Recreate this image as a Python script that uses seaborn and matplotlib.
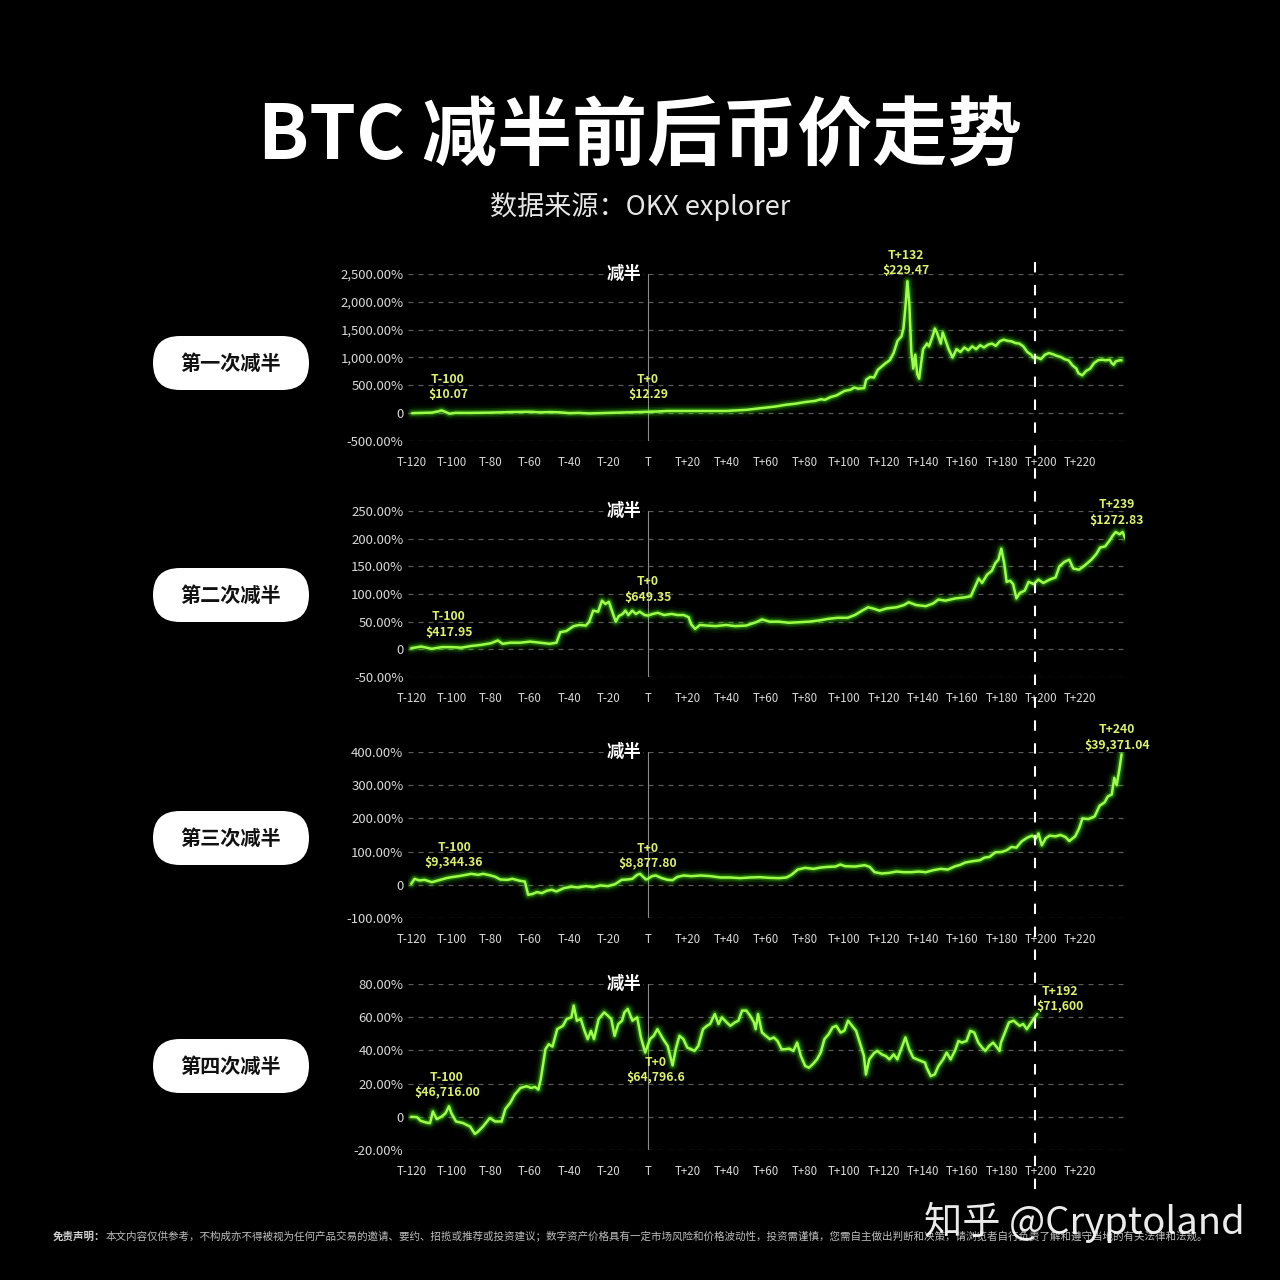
import numpy as np
import pandas as pd
import seaborn as sns
import matplotlib
matplotlib.use("Agg")
import matplotlib.pyplot as plt
from matplotlib.patches import FancyBboxPatch
from matplotlib.lines import Line2D
from matplotlib.ticker import FuncFormatter, FixedLocator

# ---------------- data ----------------
title = "BTC 减半前后币价走势"
subtitle = "数据来源：OKX explorer"
panel_names = ["第一次减半", "第二次减半", "第三次减半", "第四次减半"]
halving_label = "减半"

x_ticks = list(range(-120, 221, 20))
x_tick_labels = [("T" if t == 0 else (f"T+{t}" if t > 0 else f"T{t}")) for t in x_ticks]

# halving 1 (% change vs T-120)
h1_days = [-120, -115, -110, -107, -105, -103, -101, -98, -90, -80, -70, -60, -55, -50, -45, -40, -35, -30,
           -25, -20, -15, -10, -5, 0, 5, 10, 20, 30, 40, 45, 50, 55, 60, 65, 70, 75, 80, 85, 88, 90, 93, 96,
           100, 103, 105, 107, 110, 111, 113, 115, 117, 119, 121, 123, 125, 127, 129, 130, 131, 132, 133, 134,
           135, 136, 137, 138, 139, 140, 142, 143, 145, 146, 147, 148, 149, 150, 151, 153, 155, 157, 159, 161,
           163, 165, 167, 169, 171, 173, 175, 177, 179, 181, 183, 185, 187, 189, 191, 193, 195, 196, 198, 200,
           202, 204, 206, 208, 210, 212, 214, 216, 218, 219, 221, 223, 225, 227, 229, 231, 233, 235, 236, 237,
           238, 240, 241]
h1_vals = [0, 5, 10, 30, 50, 20, -10, 5, 5, 10, 20, 25, 15, 20, 15, 0, 5, -5,
           0, 5, 10, 15, 20, 25, 30, 40, 40, 40, 40, 50, 60, 80, 100, 120, 150, 170, 200, 220, 250, 240, 290, 320,
           400, 420, 460, 440, 450, 600, 650, 640, 780, 840, 900, 950, 1080, 1300, 1380, 1520, 1900, 2370, 1950, 1100,
           800, 1050, 700, 620, 900, 1150, 1250, 1200, 1400, 1520, 1450, 1350, 1250, 1450, 1350, 1150, 1000, 1150, 1100, 1180,
           1130, 1200, 1150, 1220, 1180, 1230, 1250, 1210, 1290, 1320, 1300, 1290, 1260, 1250, 1200, 1100, 1050, 1000, 1000, 970,
           1050, 1080, 1060, 1030, 1010, 970, 950, 860, 800, 720, 680, 760, 800, 900, 950, 960, 950, 960, 900, 870,
           930, 950, 950]

# halving 2
h2_days = [-120.5, -115.5, -110, -105, -100.3, -95, -90, -85, -80, -76.4, -74, -70, -65, -60, -55, -50, -46.6, -44.6,
           -41.6, -37.8, -34.9, -31.6, -29.9, -27.9, -25.4, -23.4, -21.7, -19.9, -17.9, -16.4, -14.9, -12.9, -11.5, -10,
           -8, -6.2, -4.2, -1.7, 0, 2.5, 5, 8.2, 12, 15, 18.2, 20.7, 22, 24, 26.4, 29.9, 34.4, 39.8, 44.3, 50, 55, 58,
           61.8, 66.7, 71.7, 76.7, 81.7, 86.7, 91.6, 96.6, 101.6, 105.3, 109, 112, 115.3, 117.8, 121.5, 126.5, 130.2,
           132.7, 136.5, 141.4, 145.2, 147.7, 151.4, 156.4, 161.4, 164.3, 166.3, 168.3, 170, 172.6, 175, 176.8, 178.3,
           179.8, 181.3, 182.5, 184.3, 185.8, 187.5, 189.2, 191.7, 193.7, 196.2, 198.7, 201.2, 204.4, 207.4, 209.4,
           211.9, 214.4, 216.4, 219.4, 222.4, 225.6, 228.1, 230.1, 232.6, 234.8, 236.6, 238, 240, 241.5, 243]
h2_vals = [2, 5, 1, 4, 4, 3, 6, 8, 11, 16, 10, 12, 12, 14, 12, 10, 12, 31,
           33, 42, 44, 43, 50, 70, 68, 88, 82, 86, 65, 50, 60, 64, 70, 62,
           70, 64, 68, 62, 61, 64, 66, 62, 64, 62, 62, 58, 45, 37, 44, 43, 42, 44, 42, 43, 49, 54,
           50, 50, 48, 49, 50, 52, 55, 57, 57, 62, 70, 76, 73, 70, 74, 76, 80,
           85, 80, 78, 83, 90, 88, 92, 94, 96, 112, 128, 120, 135, 142, 156, 162,
           182, 155, 122, 124, 118, 92, 102, 106, 122, 118, 126, 120, 126, 130, 150,
           158, 162, 146, 144, 152, 162, 172, 184, 186, 196, 206, 212, 208, 212, 200]

# halving 3
h3_days = [-120.5, -118.8, -116.3, -113.8, -110, -106.3, -102.6, -100, -96.4, -92.6, -90, -86.4, -83.9, -80, -77.7,
           -75.2, -71.5, -69, -65.2, -62.7, -61, -59, -56.5, -54, -51.5, -49, -46.6, -42.8, -39, -35.4, -31.6, -27.9,
           -24.2, -20.4, -16.7, -13.4, -10.5, -8, -5.5, -4, -2.5, -1, 0, 2, 4, 7, 10, 12.5, 15, 18.2, 22, 27, 31.9,
           36.9, 41.8, 46.8, 51.8, 56.8, 61.8, 66.7, 70.5, 73, 76.2, 80, 84.2, 87.9, 91.6, 95.4, 97.9, 100.3, 105.3,
           110.3, 112.8, 115.3, 119, 122.8, 126.5, 130.2, 134, 137.7, 141.4, 145.2, 148.9, 152.6, 156.4, 158.9, 161.4,
           165.1, 168.8, 171.3, 173.8, 176.8, 180, 182.5, 185, 187.5, 190, 193, 195.5, 197.5, 198.7, 200.4, 202.4,
           204.4, 207.4, 209.9, 212.4, 214.4, 217.4, 219.4, 221.1, 224.1, 227.3, 229.8, 232.3, 234, 236, 237.3, 238.5,
           240, 241]
h3_vals = [3, 18, 13, 15, 8, 14, 20, 23, 26, 30, 33, 30, 33, 28, 24,
           16, 15, 18, 12, 10, -30, -28, -22, -25, -18, -15, -20, -10, -6, -8, -4, -7,
           -2, -4, 2, 15, 16, 18, 30, 33, 24, 16, 18, 26, 28, 20, 15, 14, 24, 28, 26, 28, 26,
           22, 22, 20, 22, 23, 21, 20, 22, 30, 46, 51, 48, 52, 54, 55, 61, 56, 55,
           59, 54, 38, 34, 36, 40, 38, 38, 40, 38, 44, 48, 46, 56, 60, 67,
           71, 74, 82, 84, 98, 99, 104, 114, 112, 130, 142, 148, 140, 155, 119, 140,
           148, 146, 150, 144, 132, 146, 170, 200, 198, 206, 238, 248, 266, 272, 322, 300,
           352, 393]

# halving 4
h4_days = [-120.5, -117.6, -115.7, -113, -110.9, -109.5, -107.5, -104.9, -103, -101.3, -100.1, -97.7, -94.1, -90.5,
           -88.1, -86.5, -84, -80.5, -77.8, -74.5, -72.6, -70.2, -67.8, -64.9, -61.8, -59.4, -57.5, -55.8, -54.6, -52.2,
           -50.5, -48.6, -46.2, -43.3, -41.4, -39.0, -37.8, -36.2, -34.2, -32.3, -30.7, -29.0, -27.5, -25.1, -22.3,
           -20.4, -18.7, -17.0, -15.1, -13.2, -12, -10.3, -7.9, -5.5, -3.6, -1.4, 1.0, 2.9, 4.8, 7.7, 10.0, 12.5, 14.1,
           16.0, 18.0, 20.0, 22.0, 23.7, 25.6, 28.0, 30.0, 31.6, 34.0, 35.9, 37.6, 40.0, 41.9, 44.3, 46.0, 47.9, 50.0,
           52.0, 53.9, 54.8, 56.0, 58.0, 59.9, 62.0, 64.0, 65.9, 68.0, 69.9, 71.9, 74.0, 75.9, 77.8, 80.0, 81.9, 83.8,
           86.0, 87.9, 89.8, 92.0, 93.9, 95.8, 98.0, 99.9, 101.8, 103.9, 105.9, 107.8, 109.9, 110.9, 112.6, 115.0,
           116.6, 119.0, 121.0, 122.9, 125.0, 126.9, 129.1, 131.0, 132.9, 135.0, 137.0, 138.9, 141.0, 141.8, 143.9,
           145.9, 147.8, 150.2, 152.0, 154.0, 156.2, 158.0, 159.7, 162.1, 164.0, 166.0, 168.1, 170.0, 171.7, 173.6,
           175.6, 177.7, 178.9, 179.6, 182.0, 183.7, 186.1, 188.0, 189.2, 190.9, 192.8, 194.5, 196.2, 198.1]
h4_vals = [0, -0.2, -2.4, -3.4, -3.8, 3.2, -1.4, 0.2, 2.2, 6.3, 2.2, -2.8, -3.8, -5.9,
           -10.3, -8.9, -5.9, -0.8, -2.8, -2.8, 4.7, 8.3, 13.4, 17.4, 18.4, 17.4, 18.0, 16.4, 22.5, 40.7,
           43.7, 42.3, 52.8, 54.8, 58.9, 59.9, 67.0, 57.9, 58.9, 51.8, 46.8, 51.8, 46.8, 58.9, 62.9,
           60.9, 58.9, 48.8, 55.9, 57.9, 62.9, 65.0, 57.9, 59.9, 47.8, 38.7, 46.8, 48.8, 52.8, 46.8, 42.7, 31.0, 40.7,
           48.8, 46.8, 41.7, 40.7, 39.7, 42.7, 52.8, 54.8, 55.9, 61.9, 55.9, 59.9, 56.9, 54.8, 56.9, 57.9, 64.0, 64.0,
           60.9, 56.9, 52.8, 61.9, 50.8, 48.8, 46.8, 47.8, 45.7, 40.7, 40.7, 41.1, 39.7, 44.7, 36.6, 30.6, 29.6, 31.6,
           34.6, 38.7, 46.8, 49.8, 53.8, 54.8, 50.8, 51.8, 57.9, 54.8, 51.8, 44.7, 36.6, 25.5, 34.6, 38.3,
           39.7, 37.6, 36.6, 34.6, 37.6, 34.6, 41.7, 47.8, 40.7, 35.6, 34.6, 33.6, 32.6, 29.6, 24.5,
           25.5, 30.6, 34.6, 38.7, 34.6, 39.7, 45.7, 44.7, 45.7, 51.8, 50.8, 44.7, 41.7, 39.7, 42.7,
           44.7, 41.7, 39.7, 44.7, 51.8, 56.9, 57.9, 55.9, 54.8, 55.9, 52.8, 55.9, 58.9, 61.9]

y_ticks = [[-500, 0, 500, 1000, 1500, 2000, 2500],
           [-50, 0, 50, 100, 150, 200, 250],
           [-100, 0, 100, 200, 300, 400],
           [-20, 0, 20, 40, 60, 80]]

# annotations: (text, day, value)
ann = [
    [("T-100\n$10.07", -101.8, 467), ("T+0\n$12.29", 0, 467), ("T+132\n$229.47", 131.3, 2695)],
    [("T-100\n$417.95", -101.3, 45), ("T+0\n$649.35", 0, 108), ("T+239\n$1272.83", 238.7, 247)],
    [("T-100\n$9,344.36", -98.7, 90), ("T+0\n$8,877.80", 0, 87), ("T+240\n$39,371.04", 238.7, 443)],
    [("T-100\n$46,716.00", -102.3, 19.2), ("T+0\n$64,796.6", 4, 28.1), ("T+192\n$71,600", 209.7, 70.7)],
]

disclaimer_head = "免责声明："
disclaimer_body = ("本文内容仅供参考，不构成亦不得被视为任何产品交易的邀请、要约、招揽或推荐或投资建议；"
                   "数字资产价格具有一定市场风险和价格波动性，投资需谨慎，您需自主做出判断和决策，"
                   "请浏览者自行负责了解和遵守当地的有关法律和法规。")
watermark = "知乎 @Cryptoland"

# ---------------- style ----------------
sns.set_theme(style="dark")
plt.rcParams["font.family"] = ["Noto Sans CJK SC", "DejaVu Sans"]
plt.rcParams["axes.unicode_minus"] = False

BG = "#000000"
LINE = "#9dff4a"
GLOW = "#4cff10"
ANN = "#dcf06a"
TICK = "#d8d8d8"

W = 1280.0
fig = plt.figure(figsize=(12.8, 12.8), dpi=100, facecolor=BG)

XMIN, XMAX = -122, 243
PX_PER_DAY = 1.965
left_px = 648 + XMIN * PX_PER_DAY
right_px = 648 + XMAX * PX_PER_DAY
panel_px = [(274, 441), (511, 677), (752, 918), (984, 1150)]
pill_cy = [363, 595, 838, 1066]

series = [(h1_days, h1_vals), (h2_days, h2_vals), (h3_days, h3_vals), (h4_days, h4_vals)]


def fmt(v, pos):
    if abs(v) < 1e-9:
        return "0"
    return f"{v:,.2f}%"


axes = []
for i, ((top, bot), (d, v)) in enumerate(zip(panel_px, series)):
    ax = fig.add_axes([left_px / W, 1 - bot / W, (right_px - left_px) / W, (bot - top) / W])
    ax.set_facecolor(BG)
    df = pd.DataFrame({"day": d, "val": v})
    # glow layers
    for lw, a in [(10, 0.06), (6.5, 0.13), (4, 0.28)]:
        sns.lineplot(data=df, x="day", y="val", ax=ax, color=GLOW, linewidth=lw, alpha=a,
                     estimator=None, sort=False, legend=False)
    sns.lineplot(data=df, x="day", y="val", ax=ax, color=LINE, linewidth=1.8,
                 estimator=None, sort=False, legend=False)
    yt = y_ticks[i]
    ax.set_ylim(yt[0], yt[-1])
    ax.set_xlim(XMIN, XMAX)
    ax.set_xlabel("")
    ax.set_ylabel("")
    ax.yaxis.set_major_locator(FixedLocator(yt))
    ax.yaxis.set_major_formatter(FuncFormatter(fmt))
    ax.set_xticks(x_ticks)
    ax.set_xticklabels(x_tick_labels)
    ax.tick_params(axis="x", length=0, pad=10.5, labelsize=8.3, colors=TICK)
    ax.tick_params(axis="y", length=0, pad=3.5, labelsize=9.5, colors=TICK)
    ax.grid(False)
    for yv in yt:
        ax.axhline(yv, color="#5a5a5a", linewidth=0.9, linestyle=(0, (4, 4)), zorder=0)
    ax.axvline(0, color="#8a8a8a", linewidth=0.8, zorder=1)
    for s in ax.spines.values():
        s.set_visible(False)
    ax.text(-12, 1.0, halving_label, transform=ax.get_xaxis_transform(), ha="center", va="center",
            color="white", fontsize=12.5, fontweight="bold", zorder=5,
            bbox=dict(facecolor=BG, edgecolor="none", pad=1.0))
    for txt, dx, dy in ann[i]:
        ax.text(dx, dy, txt, ha="center", va="center", color=ANN, fontsize=8.8, fontweight="bold",
                linespacing=1.25, clip_on=False, zorder=6)
    axes.append(ax)

    # pill label
    cy = pill_cy[i]
    h = 54
    pill = FancyBboxPatch((153 / W, 1 - (cy + h / 2) / W), 156 / W, h / W,
                          boxstyle=f"round,pad=0,rounding_size={h / 2 / W}",
                          transform=fig.transFigure, facecolor="white", edgecolor="none")
    fig.add_artist(pill)
    fig.text(231 / W, 1 - cy / W, panel_names[i], ha="center", va="center", color="#111111",
             fontsize=14.5, fontweight="bold")

# dashed "today" line across all panels
xline = (left_px + (197 - XMIN) * PX_PER_DAY) / W
fig.add_artist(Line2D([xline, xline], [1 - 262 / W, 1 - 1192 / W], transform=fig.transFigure,
                      color="white", linewidth=1.5, linestyle=(0, (5, 6))))

# titles
fig.text(640 / W, 1 - 137 / W, title, ha="center", va="center", color="white", fontsize=54,
         fontweight="black")
fig.text(640 / W, 1 - 206 / W, subtitle, ha="center", va="center", color="#e6e6e6", fontsize=19.5,
         fontweight="medium")

# footer
fig.text(53 / W, 1 - 1237 / W, disclaimer_head, ha="left", va="center", color="#cfcfcf", fontsize=7.6,
         fontweight="bold")
fig.text(106 / W, 1 - 1237 / W, disclaimer_body, ha="left", va="center", color="#bdbdbd", fontsize=7.6)
fig.text(1245 / W, 1 - 1222 / W, watermark, ha="right", va="center", color="white", fontsize=27.5,
         alpha=0.92)

fig.savefig("out.png", dpi=100, facecolor=BG)
